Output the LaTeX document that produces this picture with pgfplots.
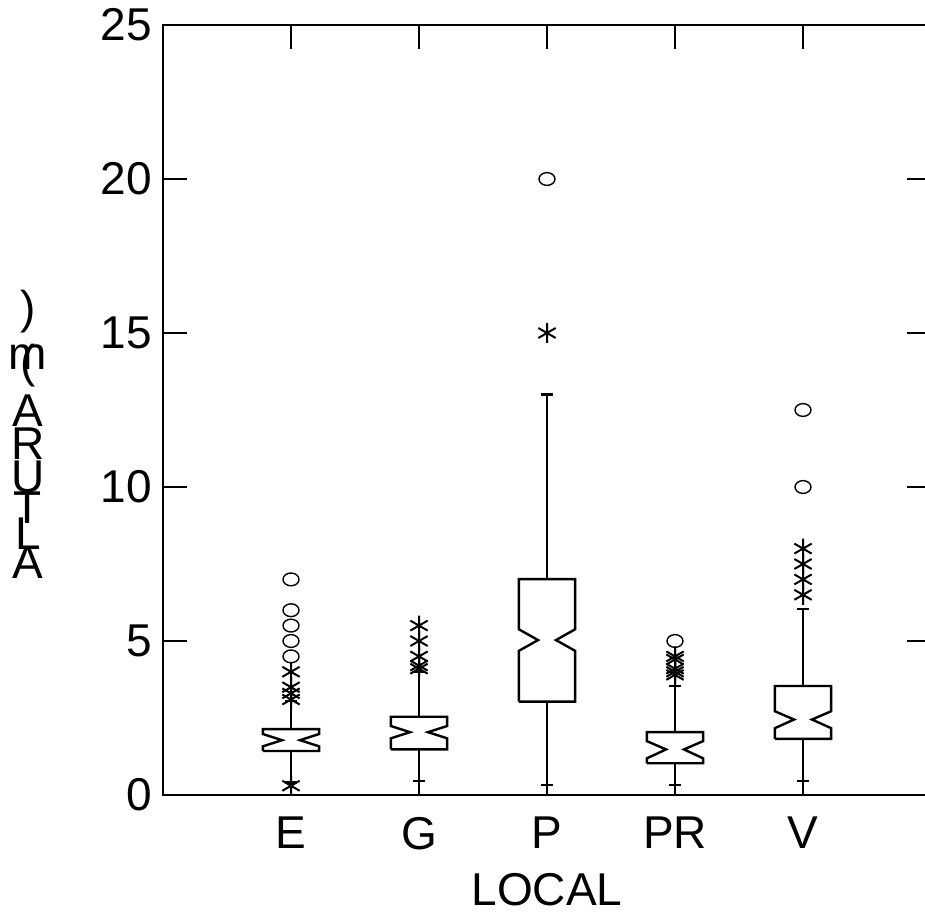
\documentclass[border=0pt]{standalone}
\usepackage{fontspec}
\setmainfont{Liberation Sans}
\usepackage{pgfplots}
\usepackage{pgfplotstable}
\pgfplotsset{compat=1.18}

% notched box summaries, one row per LOCAL
\pgfplotstableread{
x wlo q1 nlo med nhi q3 whi
1 0.40 1.43 1.58 1.78 1.98 2.14 3.05
2 0.45 1.48 1.84 2.04 2.24 2.54 4.00
3 0.32 3.03 4.68 5.03 5.38 7.01 13.0
4 0.32 1.03 1.19 1.48 1.75 2.04 3.54
5 0.45 1.82 2.17 2.45 2.72 3.54 6.03
}\boxdata

\pgfplotsset{boxline/.style={black,line width=1.2pt,mark=none}}

\newcommand\getbox[2]{\pgfplotstablegetelem{#1}{#2}\of\boxdata}
\newcommand\notchbox[1]{%
  \getbox{#1}{x}\let\bx\pgfplotsretval
  \getbox{#1}{wlo}\let\bwl\pgfplotsretval
  \getbox{#1}{q1}\let\bqa\pgfplotsretval
  \getbox{#1}{nlo}\let\bnl\pgfplotsretval
  \getbox{#1}{med}\let\bmd\pgfplotsretval
  \getbox{#1}{nhi}\let\bnh\pgfplotsretval
  \getbox{#1}{q3}\let\bqc\pgfplotsretval
  \getbox{#1}{whi}\let\bwh\pgfplotsretval
  \pgfmathsetmacro\xl{\bx-0.22}\pgfmathsetmacro\xr{\bx+0.22}%
  \pgfmathsetmacro\il{\bx-0.07}\pgfmathsetmacro\ir{\bx+0.07}%
  \pgfmathsetmacro\cl{\bx-0.05}\pgfmathsetmacro\cr{\bx+0.05}%
  \edef\next{%
    \noexpand\addplot[boxline] coordinates {(\xl,\bqa) (\xl,\bnl) (\il,\bmd) (\xl,\bnh) (\xl,\bqc) (\xr,\bqc) (\xr,\bnh) (\ir,\bmd) (\xr,\bnl) (\xr,\bqa) (\xl,\bqa)};
    \noexpand\addplot[boxline] coordinates {(\bx,\bqc) (\bx,\bwh)};
    \noexpand\addplot[boxline] coordinates {(\bx,\bqa) (\bx,\bwl)};
    \noexpand\addplot[boxline] coordinates {(\cl,\bwh) (\cr,\bwh)};
    \noexpand\addplot[boxline] coordinates {(\cl,\bwl) (\cr,\bwl)};
  }\next
}

\begin{document}
\begin{tikzpicture}
\useasboundingbox (0,0) rectangle (462.5pt,458pt);
\begin{axis}[
  at={(81.5pt,60.5pt)}, anchor=south west,
  scale only axis, width=384pt, height=385pt,
  xmin=0, xmax=6, ymin=0, ymax=25,
  xtick={1,...,5}, xticklabels={E,G,P,PR,V},
  ytick={0,5,...,25},
  tick align=inside, tick pos=both, major tick length=12pt,
  axis line style={line width=1.3pt},
  tick style={black,line width=1pt},
  ticklabel style={font=\fontsize{23}{27}\selectfont},
  xticklabel style={yshift=-7.5pt},
  yticklabel style={xshift=-2pt},
  /pgf/number format/assume math mode=true,
  xlabel={LOCAL},
  xlabel style={font=\fontsize{23}{27}\selectfont,at={(axis description cs:0.5,0)},anchor=base,yshift=-55pt},
  clip=false,
]
\notchbox{0}\notchbox{1}\notchbox{2}\notchbox{3}\notchbox{4}
% outside values
\addplot[only marks, mark=asterisk, mark size=5pt, mark options={black,line width=1pt}] coordinates {
  (1,0.3) (1,3.1) (1,3.3) (1,3.5) (1,4.0)
  (2,4.1) (2,4.2) (2,4.5) (2,5.0) (2,5.5)
  (3,15)
  (4,3.9) (4,4.0) (4,4.1) (4,4.4) (4,4.5)
  (5,6.5) (5,7.0) (5,7.5) (5,8.0)
};
% far outside values
\addplot[only marks, mark=o, mark size=4pt, mark options={black,line width=0.7pt,yscale=0.8}] coordinates {
  (1,4.5) (1,5.0) (1,5.5) (1,6.0) (1,7.0)
  (3,20)
  (4,5.0)
  (5,10) (5,12.5)
};
\end{axis}
% vertical axis title, letters stacked as in the original
\begin{scope}[every node/.style={font=\fontsize{23}{27}\selectfont,anchor=base,inner sep=0pt}]
\node at (14pt,296pt) {)};
\node at (14pt,273pt) {m};
\node at (14pt,269pt) {(};
\node at (14pt,244.5pt) {A};
\node at (14pt,228pt) {R};
\node at (14pt,211.5pt) {U};
\node at (14pt,196.5pt) {T};
\node at (14pt,183pt) {L};
\node at (14pt,169pt) {A};
\end{scope}
\end{tikzpicture}
\end{document}
